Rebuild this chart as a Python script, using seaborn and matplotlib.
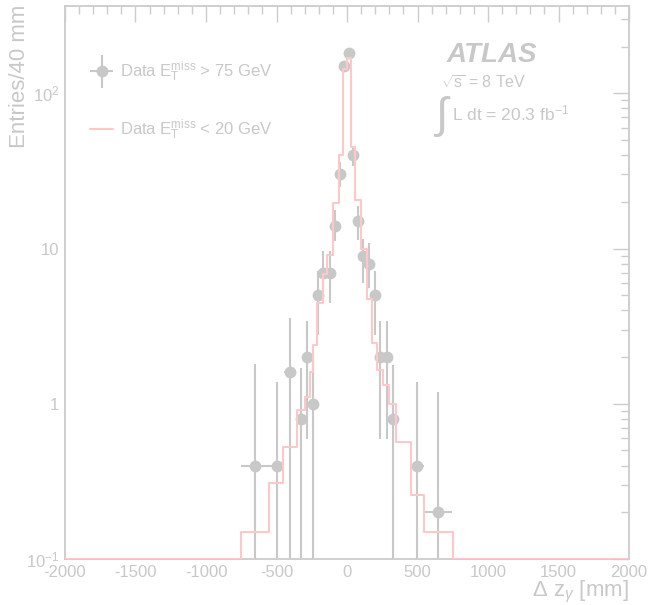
import numpy as np
import pandas as pd
import matplotlib
matplotlib.use("Agg")
import matplotlib.pyplot as plt
from matplotlib.ticker import FixedLocator, MultipleLocator
from matplotlib.legend_handler import HandlerErrorbar
import seaborn as sns

# Datos: puntos con E_T^miss > 75 GeV (centro, valor, limites de error)
pt_x = [-650, -500, -404, -328, -281, -243, -203, -168, -121, -83, -50, -19,
        12, 40, 78, 116, 158, 196, 236, 281, 324, 499, 648]
pt_y = [0.4, 0.4, 1.6, 0.8, 2.0, 1.0, 5.0, 7.0, 7.0, 14, 30, 150,
        181, 40, 15, 9.0, 8.0, 5.0, 2.0, 2.0, 0.8, 0.4, 0.2]
pt_hi = [1.80, 1.39, 3.56, 1.70, 3.42, 2.0, 7.2, 9.6, 9.6, 17.7, 36, 162,
         194, 46, 18.8, 11.5, 10.8, 7.2, 3.42, 3.42, 1.78, 1.39, 1.19]
pt_lo = [0, 0, 0, 0, 0.59, 0, 2.78, 4.45, 4.45, 11.1, 25, 138,
         168, 34, 11.4, 6.0, 5.6, 2.78, 0.59, 0.59, 0, 0, 0]
pt_xw = [100, 50, 45, 20, 20, 20, 20, 20, 20, 20, 20, 15,
         15, 20, 20, 20, 20, 20, 20, 20, 20, 50, 100]

# Histograma E_T^miss < 20 GeV (bordes y alturas)
h_edges = [-2000, -750, -550, -455, -352, -298, -262, -239, -215, -172, -144,
           -101, -60, -31, 0, 28, 55, 97, 140, 175, 215, 257, 300, 345, 454,
           546, 750, 2000]
h_vals = [0, 0.15, 0.31, 0.53, 0.91, 1.1, 1.6, 2.4, 4.45, 6.9, 9.1, 19.6, 40,
          143, 168, 45, 20.6, 9.9, 4.7, 2.46, 1.64, 1.33, 1.0, 0.57, 0.26,
          0.15, 0]

x_ticks = [-2000, -1500, -1000, -500, 0, 500, 1000, 1500, 2000]
y_ticks = [0.1, 1, 10, 100]
y_labels = [r'$10^{-1}$', '1', '10', r'$10^{2}$']

lab_hi = r'Data $\mathrm{E}_{\mathrm{T}}^{\mathrm{miss}}$ > 75 GeV'
lab_lo = r'Data $\mathrm{E}_{\mathrm{T}}^{\mathrm{miss}}$ < 20 GeV'

grey = '#c8c8c8'
pink = '#ffc8c8'

sns.set_theme(style='white')
plt.rcParams['font.family'] = ['Liberation Sans', 'DejaVu Sans']
plt.rcParams['mathtext.fontset'] = 'custom'
plt.rcParams['mathtext.rm'] = 'Liberation Sans'
plt.rcParams['mathtext.it'] = 'Liberation Sans:italic'
plt.rcParams['mathtext.bf'] = 'Liberation Sans:bold'
plt.rcParams['axes.unicode_minus'] = False

fig = plt.figure(figsize=(6.49, 6.05), dpi=100)
ax = fig.add_axes([65 / 649, 1 - 559 / 605, 564 / 649, 553 / 605])

# puntos de datos
y = np.array(pt_y)
lo = np.maximum(np.array(pt_lo), 1e-3)
yerr = [y - lo, np.array(pt_hi) - y]
eb = ax.errorbar(pt_x, pt_y, xerr=pt_xw, yerr=yerr, fmt='o', color=grey,
                 ms=7.5, elinewidth=1.5, capsize=0, zorder=2, label=lab_hi)

# histograma en escalones
hist = pd.DataFrame({'x': h_edges,
                     'y': np.clip(h_vals + [h_vals[-1]], 0.1, None)})
sns.lineplot(data=hist, x='x', y='y', drawstyle='steps-post', color=pink,
             linewidth=1.5, estimator=None, ax=ax, zorder=3, label=lab_lo)

ax.set_yscale('log')
ax.set_xlim(-2000, 2000)
ax.set_ylim(0.1, 365)
ax.set_xlabel('')
ax.set_ylabel('')

ax.xaxis.set_major_locator(FixedLocator(x_ticks))
ax.set_xticklabels([str(t) for t in x_ticks])
ax.xaxis.set_minor_locator(MultipleLocator(100))
ax.yaxis.set_major_locator(FixedLocator(y_ticks))
ax.set_yticklabels(y_labels)
minors = [m * 10.0 ** e for e in range(-1, 3) for m in range(2, 10)]
ax.yaxis.set_minor_locator(FixedLocator(minors))

for s in ax.spines.values():
    s.set_color('#cccccc')
    s.set_linewidth(1.3)
ax.tick_params(which='both', direction='in', top=True, right=True,
               colors='#cccccc', labelcolor=grey, labelsize=12)
ax.tick_params(which='major', length=11.5, width=1.0)
ax.tick_params(which='minor', length=5.8, width=1.0)
ax.tick_params(axis='x', pad=4)
ax.tick_params(axis='y', pad=4)

# leyenda: puntos primero, luego la linea
handles, labels = ax.get_legend_handles_labels()
order = [labels.index(lab_hi), labels.index(lab_lo)]
leg = ax.legend([handles[i] for i in order], [labels[i] for i in order],
                loc='upper left',
                bbox_to_anchor=(25 / 564, (559 - 60) / 553), frameon=False,
                fontsize=12, handlelength=1.38, handletextpad=0.42,
                labelspacing=2.0, borderpad=0, borderaxespad=0,
                handler_map={type(eb): HandlerErrorbar(xerr_size=0.69,
                                                       yerr_size=1.0)})
for t in leg.get_texts():
    t.set_color(grey)

# etiquetas de ejes
fig.text(20 / 649, 1 - 5 / 605, 'Entries/40 mm', rotation=90, ha='center',
         va='top', fontsize=16, color=grey)
fig.text(629 / 649, 9 / 605, r'$\Delta$ z$_{\gamma}$ [mm]', ha='right',
         va='baseline', fontsize=16, color=grey)

# texto ATLAS
ax.text(0.677, 0.899, 'ATLAS', transform=ax.transAxes, fontsize=20,
        fontweight='bold', fontstyle='italic', color=grey, va='baseline')
ax.text(0.667, 0.850, r'$\sqrt{\mathrm{s}}$ = 8 TeV', transform=ax.transAxes,
        fontsize=11.5, color=grey, va='baseline')
ax.text(0.668, 0.80, '\u222b', transform=ax.transAxes, fontsize=32,
        color=grey, ha='center', va='center')
ax.text(0.687, 0.794, r'L dt = 20.3 fb$^{-1}$', transform=ax.transAxes,
        fontsize=12.5, color=grey, va='baseline')

fig.savefig('out.png', dpi=100)
